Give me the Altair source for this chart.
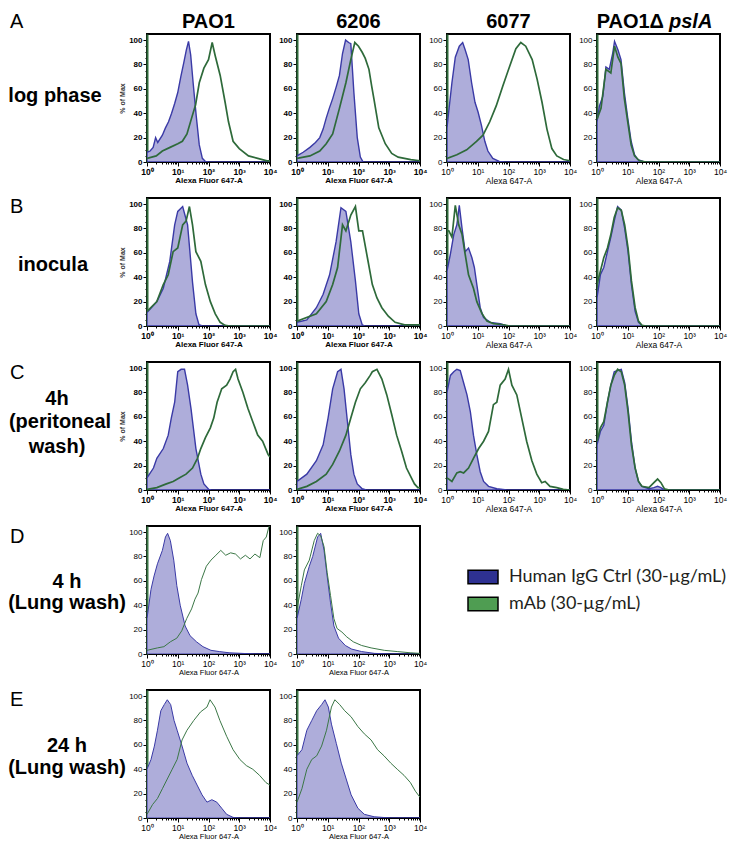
import altair as alt
import pandas as pd

# ---------------- data: (log10 intensity, % of max) ----------------
# Row A: log phase
A1_ctrl = [(0, 8), (0.1, 9), (0.2, 12), (0.28, 20), (0.35, 16), (0.5, 22), (0.6, 28), (0.7, 33), (0.8, 40), (0.9, 48),
           (1.0, 57), (1.1, 70), (1.2, 82), (1.28, 92), (1.35, 99), (1.42, 88), (1.5, 65), (1.6, 38), (1.7, 14),
           (1.8, 3), (1.9, 0.5), (2.0, 0), (4.0, 0)]
A1_mab = [(0, 3), (0.3, 5), (0.5, 9), (0.75, 12), (1.0, 15), (1.15, 17), (1.3, 23), (1.45, 36), (1.58, 47), (1.7, 65),
          (1.85, 77), (2.0, 84), (2.12, 98), (2.22, 87), (2.38, 71), (2.54, 49), (2.65, 33), (2.8, 17), (3.0, 11),
          (3.3, 5), (3.6, 3), (3.9, 1), (4.0, 1)]
A2_ctrl = [(0, 5), (0.2, 8), (0.42, 12), (0.6, 16), (0.74, 20), (0.85, 27), (0.95, 36), (1.05, 44), (1.16, 52),
           (1.28, 62), (1.38, 71), (1.48, 89), (1.58, 100), (1.68, 98), (1.75, 97), (1.85, 57), (1.96, 20),
           (2.06, 4), (2.15, 0), (4.0, 0)]
A2_mab = [(0, 3), (0.42, 5), (0.74, 9), (0.95, 15), (1.16, 23), (1.38, 44), (1.59, 65), (1.75, 84), (1.88, 98),
          (2.0, 95), (2.12, 90), (2.22, 85), (2.34, 76), (2.43, 62), (2.5, 52), (2.66, 28), (2.87, 15), (3.08, 7),
          (3.29, 4), (3.7, 2), (4.0, 1)]
A3_ctrl = [(0, 28), (0.05, 40), (0.16, 65), (0.27, 86), (0.4, 95), (0.51, 98), (0.59, 92), (0.69, 84), (0.8, 65),
           (0.91, 49), (1.01, 41), (1.12, 30), (1.23, 17), (1.33, 9), (1.49, 3), (1.7, 0.5), (1.9, 0), (4.0, 0)]
A3_mab = [(0, 3), (0.32, 6), (0.64, 10), (0.96, 17), (1.17, 22), (1.39, 33), (1.6, 46), (1.81, 62), (2.03, 78),
          (2.24, 93), (2.4, 98), (2.56, 95), (2.77, 84), (2.93, 68), (3.09, 49), (3.25, 27), (3.41, 11), (3.57, 5),
          (3.79, 2), (4.0, 1)]
A4_ctrl = [(0, 33), (0.08, 46), (0.19, 54), (0.29, 78), (0.4, 76), (0.51, 89), (0.57, 99), (0.68, 92), (0.78, 84),
           (0.89, 57), (1.0, 36), (1.11, 17), (1.22, 6), (1.33, 2), (1.5, 0.5), (1.6, 0), (4.0, 0)]
A4_mab = [(0, 35), (0.13, 44), (0.29, 76), (0.45, 73), (0.57, 95), (0.68, 86), (0.78, 81), (0.89, 52), (1.0, 33),
          (1.11, 14), (1.22, 5), (1.38, 1), (1.6, 0), (4.0, 0)]
# Row B: inocula
B1_ctrl = [(0, 11), (0.32, 20), (0.53, 31), (0.74, 53), (0.9, 83), (1.0, 94), (1.16, 98), (1.32, 83), (1.48, 36),
           (1.59, 10), (1.69, 1), (1.8, 0), (4.0, 0)]
B1_mab = [(0, 12), (0.32, 20), (0.53, 34), (0.69, 42), (0.85, 61), (1.0, 64), (1.16, 83), (1.27, 86), (1.38, 98),
          (1.48, 83), (1.59, 61), (1.75, 53), (1.9, 34), (2.06, 20), (2.22, 10), (2.38, 3), (2.54, 0.5), (2.7, 0),
          (4.0, 0)]
B2_ctrl = [(0, 3), (0.32, 5), (0.63, 15), (0.85, 26), (1.06, 42), (1.27, 69), (1.43, 97), (1.59, 94), (1.75, 69),
           (1.9, 37), (2.01, 10), (2.12, 1), (2.2, 0), (4.0, 0)]
B2_mab = [(0, 4), (0.63, 10), (0.95, 20), (1.16, 34), (1.32, 48), (1.48, 83), (1.59, 78), (1.75, 91), (1.9, 98),
          (2.01, 78), (2.13, 78), (2.29, 56), (2.45, 34), (2.6, 23), (2.76, 15), (2.97, 8), (3.19, 3), (3.5, 1),
          (3.93, 1), (4.0, 1)]
B3_ctrl = [(0, 45), (0.11, 59), (0.22, 75), (0.32, 83), (0.4, 99), (0.49, 80), (0.59, 61), (0.7, 64), (0.81, 56),
           (0.89, 48), (0.97, 34), (1.08, 15), (1.19, 7), (1.41, 3), (1.73, 2), (1.95, 0), (4.0, 0)]
B3_mab = [(0, 78), (0.06, 78), (0.16, 73), (0.27, 99), (0.38, 83), (0.49, 75), (0.59, 59), (0.7, 42), (0.86, 31),
          (0.97, 20), (1.14, 10), (1.3, 4), (1.51, 2), (1.84, 1), (2.05, 0), (4.0, 0)]
B4_ctrl = [(0, 23), (0.11, 42), (0.22, 48), (0.34, 61), (0.45, 73), (0.56, 86), (0.67, 98), (0.79, 95), (0.9, 80),
           (1.01, 61), (1.12, 34), (1.24, 12), (1.35, 3), (1.46, 0.5), (1.6, 0), (4.0, 0)]
B4_mab = [(0, 34), (0.11, 45), (0.22, 56), (0.34, 64), (0.45, 75), (0.56, 89), (0.67, 97), (0.79, 95), (0.9, 83),
          (1.01, 64), (1.12, 37), (1.24, 15), (1.35, 4), (1.46, 0.5), (1.6, 0), (4.0, 0)]
# Row C: 4h (peritoneal wash)
C1_ctrl = [(0, 10), (0.21, 18), (0.32, 26), (0.53, 34), (0.69, 45), (0.79, 59), (0.9, 72), (1.0, 97), (1.11, 99),
           (1.22, 99), (1.32, 86), (1.43, 67), (1.59, 34), (1.75, 13), (1.85, 5), (2.01, 0.5), (2.1, 0), (4.0, 0)]
C1_mab = [(0, 0.5), (0.32, 2), (0.63, 5), (0.85, 7), (1.06, 10), (1.27, 13), (1.48, 18), (1.64, 26), (1.75, 34),
          (1.9, 43), (2.06, 51), (2.17, 59), (2.28, 72), (2.43, 83), (2.59, 86), (2.7, 91), (2.8, 97), (2.88, 99),
          (2.96, 91), (3.12, 80), (3.28, 67), (3.44, 56), (3.6, 45), (3.76, 40), (3.86, 34), (3.94, 29), (4.0, 27)]
C2_ctrl = [(0, 7), (0.32, 13), (0.63, 24), (0.85, 37), (1.01, 59), (1.16, 83), (1.32, 97), (1.43, 99), (1.53, 83),
           (1.64, 56), (1.75, 29), (1.85, 13), (1.96, 5), (2.12, 1), (2.25, 0), (4.0, 0)]
C2_mab = [(0, 0.5), (0.32, 3), (0.63, 7), (0.95, 13), (1.16, 21), (1.38, 32), (1.59, 45), (1.75, 59), (1.9, 72),
          (2.06, 83), (2.22, 88), (2.38, 94), (2.45, 97), (2.6, 99), (2.76, 91), (2.92, 78), (3.08, 62), (3.24, 45),
          (3.4, 32), (3.56, 18), (3.72, 10), (3.82, 5), (3.93, 2), (4.0, 2)]
C3_ctrl = [(0, 80), (0.11, 94), (0.22, 97), (0.32, 99), (0.43, 98), (0.54, 88), (0.65, 78), (0.76, 64), (0.86, 45),
           (0.97, 29), (1.08, 15), (1.19, 7), (1.35, 3), (1.62, 1), (1.95, 0), (4.0, 0)]
C3_mab = [(0, 10), (0.16, 7), (0.32, 14), (0.43, 15), (0.54, 14), (0.7, 18), (0.86, 26), (1.03, 34), (1.19, 40),
          (1.35, 48), (1.51, 70), (1.62, 72), (1.73, 86), (1.89, 91), (2.0, 99), (2.11, 86), (2.27, 78), (2.43, 59),
          (2.59, 40), (2.76, 24), (2.92, 13), (3.08, 6), (3.19, 7), (3.35, 3), (3.57, 2), (3.78, 0.5), (4.0, 0)]
C4_ctrl = [(0, 37), (0.11, 48), (0.22, 53), (0.34, 72), (0.45, 86), (0.56, 97), (0.67, 98), (0.79, 99), (0.9, 88),
           (1.01, 67), (1.12, 40), (1.24, 18), (1.35, 7), (1.46, 3), (1.69, 1), (1.85, 2), (1.97, 3), (2.08, 2),
           (2.19, 0), (4.0, 0)]
C4_mab = [(0, 40), (0.11, 51), (0.22, 56), (0.34, 72), (0.45, 86), (0.56, 94), (0.67, 99), (0.79, 97), (0.9, 86),
          (1.01, 64), (1.12, 37), (1.24, 18), (1.35, 7), (1.46, 3), (1.69, 2), (1.85, 6), (1.97, 9), (2.08, 6),
          (2.19, 1), (2.35, 0), (4.0, 0)]
# Row D: 4 h (Lung wash)
D1_ctrl = [(0, 29), (0.13, 53), (0.23, 64), (0.34, 74), (0.5, 85), (0.6, 96), (0.67, 99), (0.76, 93), (0.87, 77),
           (0.97, 56), (1.08, 40), (1.24, 23), (1.4, 15), (1.61, 10), (1.82, 6), (2.08, 3), (2.35, 2), (2.67, 1),
           (3.09, 0.5), (3.51, 0), (4.0, 0)]
D1_mab = [(0, 3), (0.34, 5), (0.55, 6), (0.76, 10), (0.97, 13), (1.13, 19), (1.29, 29), (1.45, 37), (1.56, 45),
          (1.66, 50), (1.77, 61), (1.93, 72), (2.08, 77), (2.24, 81), (2.4, 85), (2.56, 81), (2.72, 83), (2.88, 82),
          (3.04, 78), (3.2, 81), (3.35, 78), (3.51, 82), (3.67, 79), (3.78, 93), (3.88, 96), (3.96, 104), (4.0, 106)]
D2_ctrl = [(0, 29), (0.14, 45), (0.24, 58), (0.4, 72), (0.51, 80), (0.67, 96), (0.77, 99), (0.88, 85), (0.98, 64),
           (1.09, 42), (1.2, 23), (1.35, 13), (1.57, 7), (1.78, 4), (2.1, 2), (2.52, 0.5), (3.05, 0), (4.0, 0)]
D2_mab = [(0, 37), (0.14, 56), (0.24, 69), (0.4, 77), (0.56, 93), (0.67, 99), (0.77, 97), (0.88, 88), (0.98, 67),
          (1.09, 48), (1.2, 29), (1.3, 21), (1.46, 18), (1.62, 14), (1.83, 10), (2.1, 7), (2.41, 5), (2.84, 3),
          (3.26, 2), (3.68, 1), (4.0, 0.5)]
# Row E: 24 h (Lung wash)
E1_ctrl = [(0, 40), (0.13, 48), (0.24, 59), (0.34, 72), (0.45, 88), (0.56, 93), (0.66, 97), (0.77, 93), (0.88, 80),
           (0.98, 72), (1.14, 59), (1.3, 45), (1.47, 35), (1.63, 27), (1.79, 19), (1.95, 13), (2.11, 15), (2.27, 13),
           (2.43, 8), (2.59, 3), (2.8, 0.5), (3.0, 0), (4.0, 0)]
E1_mab = [(0, 3), (0.18, 11), (0.34, 16), (0.5, 24), (0.66, 32), (0.82, 40), (0.98, 48), (1.14, 64), (1.3, 72),
          (1.52, 80), (1.74, 87), (1.95, 91), (2.05, 97), (2.21, 91), (2.37, 80), (2.59, 67), (2.8, 56), (3.02, 48),
          (3.23, 43), (3.44, 40), (3.66, 35), (3.87, 29), (4.0, 27)]
E2_ctrl = [(0, 51), (0.16, 56), (0.32, 72), (0.48, 80), (0.64, 88), (0.8, 93), (0.91, 97), (1.02, 91), (1.12, 77),
           (1.28, 61), (1.44, 45), (1.6, 32), (1.76, 19), (1.98, 8), (2.19, 3), (2.51, 1), (3.05, 0), (4.0, 0)]
E2_mab = [(0, 13), (0.16, 24), (0.32, 40), (0.48, 48), (0.64, 51), (0.8, 59), (0.96, 72), (1.12, 91), (1.23, 97),
          (1.39, 93), (1.55, 88), (1.76, 83), (1.98, 75), (2.19, 69), (2.41, 64), (2.62, 56), (2.83, 51), (3.05, 45),
          (3.26, 40), (3.48, 35), (3.69, 29), (3.85, 22), (4.0, 17)]

COLUMN_HEADERS = ["PAO1", "6206", "6077"]
LAST_HEADER = ("PAO1Δ", "pslA")
ROW_LETTERS = ["A", "B", "C", "D", "E"]
ROW_LABELS = [["log phase"], ["inocula"], ["4h", "(peritoneal", "wash)"], ["4 h", "(Lung wash)"],
              ["24 h", "(Lung wash)"]]
LEGEND_LABELS = ["Human IgG Ctrl (30-µg/mL)", "mAb (30-µg/mL)"]
LEGEND_COLORS = ["#2e3192", "#4f9d52"]
X_TICKS = [m * 10 ** k for k in range(4) for m in range(1, 10)] + [10000]
Y_TICKS = list(range(0, 101, 5))

# ---------------- styling ----------------
W, H, LW = 123, 128, 112
LAV, BLUE, GREEN, GREEN_THIN = "#aeadda", "#3a3aa6", "#2e6a3a", "#3b7746"
X_LABEL = ("datum.value == 1 ? '10⁰' : datum.value == 10 ? '10¹' : datum.value == 100 ? '10²' : "
           "datum.value == 1000 ? '10³' : datum.value == 10000 ? '10⁴' : ''")
Y_LABEL = "datum.value % 20 == 0 ? '' + datum.value : ''"
X_MAJOR = "indexof([1, 10, 100, 1000, 10000], datum.value) >= 0"
Y_MAJOR = "datum.value % 20 == 0"
NARROW = "Liberation Sans Narrow, Liberation Sans, Arial, sans-serif"
SANS = "Liberation Sans, Arial, sans-serif"

STYLES = {
    "bold": dict(font=NARROW, weight="bold", size=8.5, tsize=8, xtitle="Alexa Fluor 647-A", lwb=1.4, lwg=1.7,
                 g=GREEN),
    "alexa": dict(font=SANS, weight="normal", size=8.5, tsize=8.5, xtitle="Alexa 647-A", lwb=1.4, lwg=1.7, g=GREEN),
    "lung": dict(font=SANS, weight="normal", size=8.5, tsize=7.5, xtitle="Alexa Fluor 647-A", lwb=1.0, lwg=1.0,
                 g=GREEN_THIN),
}


def curve_df(points):
    return pd.DataFrame({"intensity": [10 ** p[0] for p in points], "pct": [p[1] for p in points]})


def text_layer(t, x, y, size, weight="bold", style="normal", align="center", baseline="alphabetic", font=SANS):
    return alt.Chart(pd.DataFrame({"t": [t]})).mark_text(
        font=font, fontSize=size, fontWeight=weight, fontStyle=style, align=align, baseline=baseline,
        color="black").encode(text="t:N", x=alt.value(x), y=alt.value(y))


def panel(ctrl, mab, style, ytitle=False, header=None):
    st = STYLES[style]
    xs = alt.Scale(type="log", domain=[1, 10000], nice=False)
    ys = alt.Scale(domain=[0, 105], nice=False)
    xaxis = alt.Axis(values=X_TICKS, labelExpr=X_LABEL, title=st["xtitle"], labelOverlap=False, labelFlush=False,
                     labelFont=st["font"], labelFontWeight=st["weight"], labelFontSize=st["size"],
                     titleFont=st["font"], titleFontWeight=st["weight"], titleFontSize=st["tsize"],
                     titlePadding=1, labelPadding=1,
                     tickSize={"condition": {"test": X_MAJOR, "value": 4}, "value": 2},
                     tickColor="black", domainColor="black",
                     labelColor="black", titleColor="black", grid=False)
    yaxis = alt.Axis(values=Y_TICKS, labelExpr=Y_LABEL, title="% of Max" if ytitle else None, labelOverlap=False,
                     labelFont=st["font"], labelFontWeight=st["weight"], labelFontSize=st["size"] - 0.5,
                     titleFont=NARROW, titleFontWeight="bold", titleFontSize=7, titlePadding=3,
                     labelPadding=1,
                     tickSize={"condition": {"test": Y_MAJOR, "value": 4}, "value": 2},
                     tickColor="black", domainColor=st["g"], domainWidth=2,
                     labelColor="black", titleColor="#333", grid=False)
    area = alt.Chart(curve_df(ctrl)).mark_area(
        interpolate="linear", fill=LAV, fillOpacity=1, stroke=BLUE, strokeWidth=st["lwb"], clip=True
    ).encode(x=alt.X("intensity:Q", scale=xs, axis=xaxis), y=alt.Y("pct:Q", scale=ys, axis=yaxis))
    line = alt.Chart(curve_df(mab)).mark_line(
        interpolate="linear", color=st["g"], strokeWidth=st["lwg"], clip=True
    ).encode(x=alt.X("intensity:Q", scale=xs, axis=xaxis), y=alt.Y("pct:Q", scale=ys, axis=yaxis))
    layers = [area, line]
    if header is not None:
        if isinstance(header, tuple):
            layers.append(text_layer(header[0], 67, -6, 20, align="right"))
            layers.append(text_layer(header[1], 72, -6, 20, style="italic", align="left"))
        else:
            layers.append(text_layer(header, W / 2, -6, 20))
    return alt.layer(*layers).properties(
        width=W, height=H, view=alt.ViewBackground(stroke="black", strokeWidth=2, strokeOpacity=1))


LETTER_Y = [-6, 15, 17, 17, 16]
LABEL_POS = [[(47, 68)], [(45, 73)], [(49, 43), (52, 66), (49, 91)], [(59, 62), (59, 83)], [(59, 62), (59, 84)]]


def label_chart(i):
    layers = [text_layer(ROW_LETTERS[i], 2, LETTER_Y[i], 20, weight="normal", align="left")]
    for t, (x, y) in zip(ROW_LABELS[i], LABEL_POS[i]):
        layers.append(text_layer(t, x, y, 20))
    return alt.layer(*layers).properties(width=LW, height=H, view=alt.ViewBackground(strokeOpacity=0))


def blank():
    return alt.Chart(pd.DataFrame({"t": [""]})).mark_text().encode(text="t:N").properties(
        width=W, height=H, view=alt.ViewBackground(strokeOpacity=0))


def legend_cell():
    leg = alt.Chart(pd.DataFrame({"series": LEGEND_LABELS})).transform_filter("false").mark_square(
        stroke="black", strokeWidth=1.5
    ).encode(color=alt.Color("series:N", scale=alt.Scale(domain=LEGEND_LABELS, range=LEGEND_COLORS),
                             legend=alt.Legend(title=None, orient="none", legendX=459, legendY=527,
                                               symbolType="M-1,-0.45H1V0.45H-1Z", symbolSize=900,
                                               symbolStrokeColor="black", symbolStrokeWidth=1.5,
                                               symbolOpacity=1, labelFont="Lato, Open Sans, sans-serif",
                                               labelFontSize=18, labelColor="#231f20", labelOffset=10,
                                               rowPadding=1, labelLimit=400)))
    return leg.properties(width=W, height=H, view=alt.ViewBackground(strokeOpacity=0))


cells = [
    label_chart(0),
    panel(A1_ctrl, A1_mab, "bold", True, COLUMN_HEADERS[0]),
    panel(A2_ctrl, A2_mab, "bold", False, COLUMN_HEADERS[1]),
    panel(A3_ctrl, A3_mab, "alexa", False, COLUMN_HEADERS[2]),
    panel(A4_ctrl, A4_mab, "alexa", False, LAST_HEADER),
    label_chart(1),
    panel(B1_ctrl, B1_mab, "bold", True),
    panel(B2_ctrl, B2_mab, "bold"),
    panel(B3_ctrl, B3_mab, "alexa"),
    panel(B4_ctrl, B4_mab, "alexa"),
    label_chart(2),
    panel(C1_ctrl, C1_mab, "bold", True),
    panel(C2_ctrl, C2_mab, "bold"),
    panel(C3_ctrl, C3_mab, "alexa"),
    panel(C4_ctrl, C4_mab, "alexa"),
    label_chart(3),
    panel(D1_ctrl, D1_mab, "lung"),
    panel(D2_ctrl, D2_mab, "lung"),
    legend_cell(),
    blank(),
    label_chart(4),
    panel(E1_ctrl, E1_mab, "lung"),
    panel(E2_ctrl, E2_mab, "lung"),
    blank(),
    blank(),
]

chart = alt.concat(*cells, columns=5, spacing={"row": 36, "column": 27}, bounds="flush", align="each",
                   padding={"top": 3, "left": 0, "right": 0, "bottom": 0}).configure_axis(grid=False)

chart.save("out.html", embed_options={"renderer": "svg", "actions": False})
